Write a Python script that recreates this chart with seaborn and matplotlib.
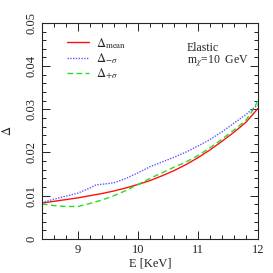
import numpy as np
import pandas as pd
import matplotlib
matplotlib.use("Agg")
import matplotlib.pyplot as plt
import seaborn as sns
from matplotlib.ticker import MultipleLocator

# Energie (KeV) ve Delta egrileri
E_mean = [8.4, 8.6, 8.8, 9.0, 9.2, 9.4, 9.6, 9.8, 10.0, 10.2, 10.4, 10.6,
          10.8, 11.0, 11.2, 11.4, 11.6, 11.8, 12.0]
d_mean = [0.0083, 0.0087, 0.0091, 0.0095, 0.0100, 0.0105, 0.0111, 0.0118,
          0.0126, 0.0135, 0.0146, 0.0158, 0.0172, 0.0188, 0.0206, 0.0226,
          0.0247, 0.0270, 0.0302]

E_minus = [8.4, 8.6, 8.8, 9.0, 9.2, 9.3, 9.5, 9.6, 9.8, 10.0, 10.2, 10.4,
           10.6, 10.8, 11.0, 11.2, 11.4, 11.6, 11.8, 11.9, 12.0]
d_minus = [0.0084, 0.0092, 0.0099, 0.0106, 0.0118, 0.0125, 0.0128, 0.0130,
           0.0140, 0.0153, 0.0167, 0.0178, 0.0189, 0.0201, 0.0215, 0.0230,
           0.0248, 0.0268, 0.0288, 0.0300, 0.0310]

E_plus = [8.4, 8.6, 8.8, 9.0, 9.2, 9.4, 9.6, 9.8, 10.0, 10.2, 10.4, 10.6,
          10.8, 11.0, 11.2, 11.4, 11.6, 11.8, 11.9, 12.0]
d_plus = [0.0081, 0.0077, 0.0075, 0.0075, 0.0082, 0.0090, 0.0100, 0.0112,
          0.0126, 0.0140, 0.0153, 0.0166, 0.0178, 0.0193, 0.0211, 0.0231,
          0.0252, 0.0275, 0.0295, 0.0320]

sns.set_style("ticks")
plt.rcParams['font.family'] = ['Liberation Serif', 'DejaVu Serif']
plt.rcParams['mathtext.fontset'] = 'stix'

fig = plt.figure(figsize=(2.73, 2.73), dpi=100)
ax = fig.add_axes([0.154, 0.125, 0.791, 0.791])

sns.lineplot(x=E_mean, y=d_mean, ax=ax, color='#ff1010', lw=1.0,
             label=r'$\Delta_{\rm mean}$')
sns.lineplot(x=E_minus, y=d_minus, ax=ax, color='#5a5aff', lw=1.0,
             linestyle=(0, (1, 1)), label=r'$\Delta_{-\sigma}$')
sns.lineplot(x=E_plus, y=d_plus, ax=ax, color='#22e022', lw=1.0,
             linestyle=(0, (4, 2.5)), label=r'$\Delta_{+\sigma}$')

ax.set_xlim(8.4, 12)
ax.set_ylim(0, 0.05)
ax.xaxis.set_major_locator(MultipleLocator(1))
ax.xaxis.set_minor_locator(MultipleLocator(0.2))
ax.yaxis.set_major_locator(MultipleLocator(0.01))
ax.yaxis.set_minor_locator(MultipleLocator(0.002))
ax.yaxis.set_major_formatter(matplotlib.ticker.FuncFormatter(
    lambda v, p: '0' if v == 0 else '%.2f' % v))
ax.tick_params(which='both', direction='in', top=True, right=True,
               labelsize=9, width=0.7, colors='#222222')
ax.tick_params(which='major', length=6)
ax.tick_params(which='minor', length=3)
for lab in ax.get_yticklabels():
    lab.set_rotation(90)
    lab.set_va('center')
for s in ax.spines.values():
    s.set_linewidth(0.8)

ax.set_xlabel('E [KeV]', fontsize=9, labelpad=1)
ax.set_ylabel(r'$\Delta$', fontsize=9, labelpad=8)

ax.legend(loc='upper left', bbox_to_anchor=(0.08, 0.975), frameon=False,
          fontsize=9, handlelength=1.8, handletextpad=0.5,
          labelspacing=0.05, borderaxespad=0.2)
ax.text(0.67, 0.91, 'Elastic\nm$_\\chi$=10  GeV', transform=ax.transAxes,
        fontsize=8.5, va='top', ha='left', linespacing=0.95)

fig.savefig('out.png', dpi=100)
